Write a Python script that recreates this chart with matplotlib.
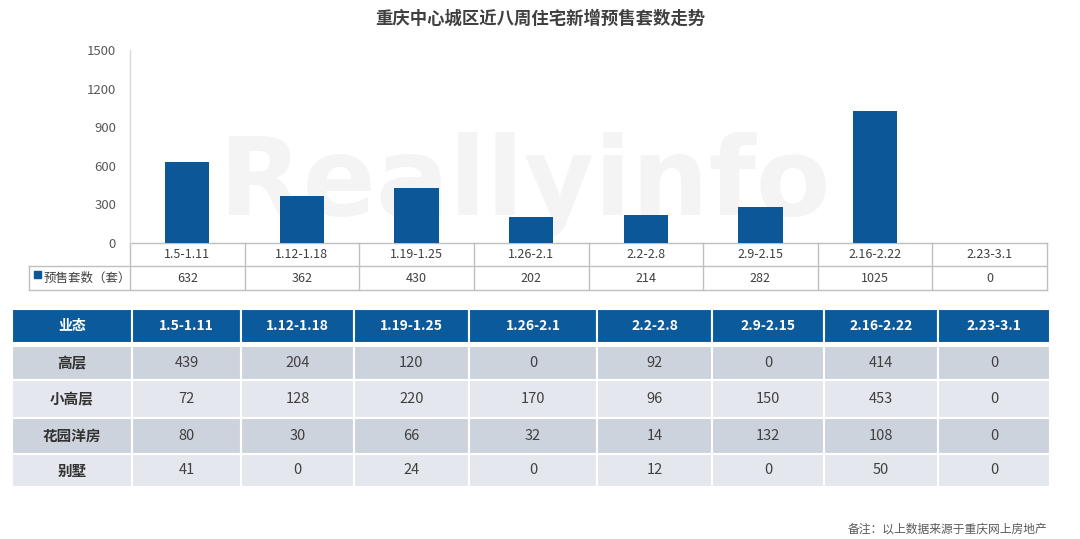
import matplotlib
matplotlib.use("Agg")
import matplotlib.pyplot as plt
from matplotlib.patches import Rectangle

plt.rcParams['font.family'] = ['Noto Sans CJK SC', 'DejaVu Sans']

# ---------------- data ----------------
title = "重庆中心城区近八周住宅新增预售套数走势"
weeks = ["1.5-1.11", "1.12-1.18", "1.19-1.25", "1.26-2.1", "2.2-2.8",
         "2.9-2.15", "2.16-2.22", "2.23-3.1"]
presale = [632, 362, 430, 202, 214, 282, 1025, 0]
series_name = "预售套数（套）"
y_ticks = [0, 300, 600, 900, 1200, 1500]

table_header = "业态"
types = ["高层", "小高层", "花园洋房", "别墅"]
high_rise = [439, 204, 120, 0, 92, 0, 414, 0]
mid_rise = [72, 128, 220, 170, 96, 150, 453, 0]
garden = [80, 30, 66, 32, 14, 132, 108, 0]
villa = [41, 0, 24, 0, 12, 0, 50, 0]
note = "备注：以上数据来源于重庆网上房地产"
watermark = "Reallyinfo"

# ---------------- style ----------------
W, H = 1080, 539
BAR = "#0B5798"
HEAD = "#0B5A9B"
ROW_DARK = "#CDD3DD"
ROW_LIGHT = "#E4E8EE"
GRID = "#BFBFBF"
TXT = "#404040"

fig = plt.figure(figsize=(W / 100, H / 100), dpi=100)
fig.patch.set_facecolor("white")

# overlay in pixel coordinates
ov = fig.add_axes([0, 0, 1, 1], zorder=0)
ov.set_xlim(0, W)
ov.set_ylim(H, 0)
ov.axis("off")

# faint watermark behind the bars
ov.text(525, 215, watermark, fontsize=78, fontweight="bold", color="#F4F4F4",
        ha="center", va="baseline", family="DejaVu Sans", zorder=0)

# bar chart axes
x0, x1, y0, y1 = 130, 1047, 243, 50
ax = fig.add_axes([x0 / W, 1 - y0 / H, (x1 - x0) / W, (y0 - y1) / H], zorder=2)
ax.patch.set_alpha(0)
n = len(weeks)
ax.bar(range(n), presale, width=0.385, color=BAR, zorder=3)
ax.set_xlim(-0.5, n - 0.5)
ax.set_ylim(0, 1500)
ax.set_yticks(y_ticks)
ax.set_yticklabels([str(t) for t in y_ticks], fontsize=9.5, color="#595959")
ax.tick_params(axis="y", length=0, pad=10)
ax.set_xticks([])
for s in ["top", "right", "bottom"]:
    ax.spines[s].set_visible(False)
ax.spines["left"].set_color("#D9D9D9")
ax.spines["left"].set_linewidth(1.0)

# title
ov.text(540, 19, title, fontsize=12.5, fontweight="bold", color="#404040",
        ha="center", va="center")

# data table under chart
slot = (x1 - x0) / n
r0, r1, r2 = 243, 266, 290
lc = 29
ov.plot([x0, x1], [r0, r0], color=GRID, lw=1.0, zorder=3)
ov.plot([lc, x1], [r1, r1], color=GRID, lw=1.0, zorder=3)
ov.plot([lc, x1], [r2, r2], color=GRID, lw=1.0, zorder=3)
ov.plot([lc, lc], [r1, r2], color=GRID, lw=1.0, zorder=3)
for i in range(n + 1):
    xx = x0 + i * slot
    ov.plot([xx, xx], [r0, r2], color=GRID, lw=1.0, zorder=3)
for i, (w, v) in enumerate(zip(weeks, presale)):
    cx = x0 + (i + 0.5) * slot
    ov.text(cx, (r0 + r1) / 2, w, fontsize=9, color=TXT, ha="center", va="center", zorder=4)
    ov.text(cx, (r1 + r2) / 2, str(v), fontsize=9, color=TXT, ha="center", va="center", zorder=4)
ov.add_patch(Rectangle((34, 271), 7, 7, color=BAR, zorder=4))
ov.text(44, (r1 + r2) / 2, series_name, fontsize=9, color=TXT, ha="left", va="center", zorder=4)

# lower table
col_edges = [12, 132, 241, 354, 469, 597, 712, 824, 938, 1050]
row_edges = [(309, 345), (346, 380), (380, 418), (418, 454), (454, 487)]
rows = [high_rise, mid_rise, garden, villa]
header = [table_header] + weeks
for j in range(len(col_edges) - 1):
    xa, xb = col_edges[j], col_edges[j + 1]
    ya, yb = row_edges[0]
    ov.add_patch(Rectangle((xa, ya), xb - xa, yb - ya - 2, facecolor=HEAD,
                           edgecolor="white", lw=1.5, zorder=3))
    ov.text((xa + xb) / 2, (ya + yb - 2) / 2, header[j], fontsize=10, fontweight="bold",
            color="white", ha="center", va="center", zorder=4)
for r, (name, vals) in enumerate(zip(types, rows)):
    ya, yb = row_edges[r + 1]
    fc = ROW_DARK if r % 2 == 0 else ROW_LIGHT
    cells = [name] + [str(v) for v in vals]
    for j in range(len(col_edges) - 1):
        xa, xb = col_edges[j], col_edges[j + 1]
        ov.add_patch(Rectangle((xa, ya), xb - xa, yb - ya, facecolor=fc,
                               edgecolor="white", lw=1.5, zorder=3))
        ov.text((xa + xb) / 2, (ya + yb) / 2, cells[j], fontsize=10.5,
                fontweight="bold" if j == 0 else "normal",
                color="#333333" if j == 0 else TXT, ha="center", va="center", zorder=4)

# footnote
ov.text(1047, 529, note, fontsize=8.5, color="#595959", ha="right", va="center")

fig.savefig("out.png", dpi=100, facecolor="white")
